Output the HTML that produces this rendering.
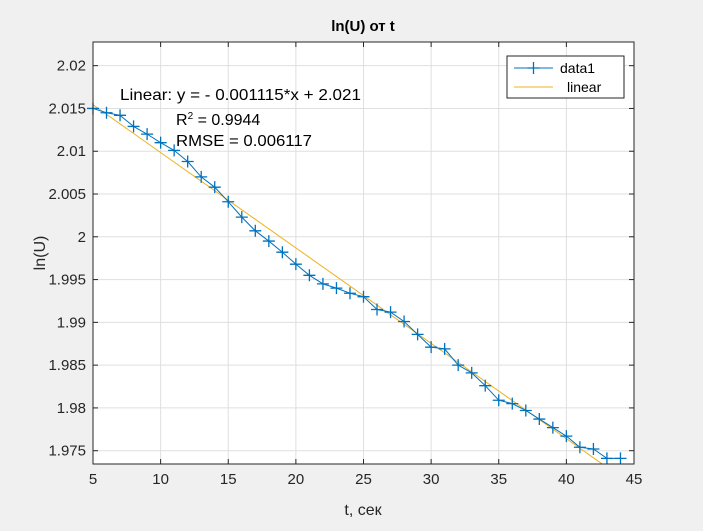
<!DOCTYPE html>
<html><head><meta charset="utf-8"><style>
body{margin:0;background:#f0f0f0;width:703px;height:526px;overflow:hidden}
svg{font-family:"Liberation Sans",sans-serif}
</style></head><body>
<svg id="c" width="703" height="526"></svg>
<script>
const tVals=[5,6,7,8,9,10,11,12,13,14,15,16,17,18,19,20,21,22,23,24,25,26,27,28,29,30,31,32,33,34,35,36,37,38,39,40,41,42,43,44];
const uVals=[2.0150,2.0145,2.0142,2.0129,2.0120,2.0110,2.0101,2.0088,2.0070,2.0058,2.0041,2.0023,2.0007,1.9995,1.9982,1.9968,1.9955,1.9945,1.9940,1.9934,1.9930,1.9915,1.9912,1.9901,1.9886,1.9871,1.9869,1.9850,1.9841,1.9826,1.9809,1.9805,1.9797,1.9787,1.9777,1.9767,1.9754,1.9752,1.9741,1.9741];
const xTicks=[5,10,15,20,25,30,35,40,45];
const yTicks=[1.975,1.98,1.985,1.99,1.995,2,2.005,2.01,2.015,2.02];
const yTickLabels=["1.975","1.98","1.985","1.99","1.995","2","2.005","2.01","2.015","2.02"];
const fitSlope=-0.001115, fitIntercept=2.021;
const NS="http://www.w3.org/2000/svg";
const svg=document.getElementById('c');
const L=93,R=634,T=42,B=464;
const X=v=>L+(v-5)/40*(R-L);
const Y=v=>236.8-(v-2)*8556;
function mk(tag,attrs,parent){const e=document.createElementNS(NS,tag);for(const k in attrs)e.setAttribute(k,attrs[k]);(parent||svg).appendChild(e);return e;}
let bg=mk('rect',{x:L,y:T,width:R-L,height:B-T,fill:'#fff'});


xTicks.forEach(v=>{
 let g=mk('line',{x1:X(v),x2:X(v),y1:T,y2:B,stroke:'#dfdfdf','stroke-width':1});
 
 
 mk('line',{x1:X(v),x2:X(v),y1:B,y2:B-5,stroke:'#262626'});
 mk('line',{x1:X(v),x2:X(v),y1:T,y2:T+5,stroke:'#262626'});
 let t=mk('text',{x:X(v),y:B+20,'text-anchor':'middle','font-size':15,fill:'#262626'});t.textContent=v;
 
 
});
yTicks.forEach((v,i)=>{
 let g=mk('line',{x1:L,x2:R,y1:Y(v),y2:Y(v),stroke:'#dfdfdf','stroke-width':1});
 
 
 mk('line',{x1:L,x2:L+5,y1:Y(v),y2:Y(v),stroke:'#262626'});
 mk('line',{x1:R,x2:R-5,y1:Y(v),y2:Y(v),stroke:'#262626'});
 let t=mk('text',{x:L-7,y:Y(v)+5,'text-anchor':'end','font-size':15,fill:'#262626'});t.textContent=yTickLabels[i];
 
 
});
mk('clipPath',{id:'cp'},mk('defs',{}));
mk('rect',{x:L,y:T,width:R-L,height:B-T},document.getElementById('cp'));
let fit=mk('line',{x1:X(5),y1:Y(fitSlope*5+fitIntercept),x2:X(45),y2:Y(fitSlope*45+fitIntercept),stroke:'#edb120','stroke-width':1,'clip-path':'url(#cp)'});


let d=tVals.map((t,i)=>(i?'L':'M')+X(t)+' '+Y(uVals[i])).join(' ');
let line=mk('path',{d:d,fill:'none',stroke:'#0072bd','stroke-width':1});


tVals.forEach((t,i)=>{
 const x=X(t),y=Y(uVals[i]);
 let p=mk('path',{d:`M${x-6} ${y}H${x+6}M${x} ${y-6}V${y+6}`,stroke:'#0072bd','stroke-width':1.3});
 
 
});
let box=mk('rect',{x:L,y:T,width:R-L,height:B-T,fill:'none',stroke:'#262626','stroke-width':1});


</script>
<svg style="position:absolute;left:0;top:0" width="703" height="526">
<text x="363" y="31" text-anchor="middle" font-size="15" font-weight="bold" fill="#000">ln(U) от t</text>
<text x="363" y="515" text-anchor="middle" font-size="16" fill="#262626">t, сек</text>
<text transform="translate(45,253) rotate(-90)" text-anchor="middle" font-size="16" fill="#262626">ln(U)</text>
<g font-size="16" fill="#000">
<text x="120" y="100" textLength="241" lengthAdjust="spacingAndGlyphs">Linear:  y = - 0.001115*x + 2.021</text>
<text x="176" y="125">R<tspan dy="-6" font-size="10">2</tspan><tspan dy="6"> = 0.9944</tspan></text>
<text x="176" y="146" textLength="136" lengthAdjust="spacingAndGlyphs">RMSE = 0.006117</text>
</g>
<g>
<rect x="507" y="56" width="117" height="42" fill="#fff" stroke="#262626"/>
<line x1="514" y1="68" x2="553" y2="68" stroke="#0072bd"/>
<path d="M527.5 68H539.5M533.5 62V74" stroke="#0072bd" stroke-width="1.3"/>
<text x="560" y="73" font-size="14" fill="#000">data1</text>
<line x1="514" y1="87" x2="553" y2="87" stroke="#edb120"/>
<text x="567" y="92" font-size="14" fill="#000">linear</text>
</g>
</svg>
</body></html>
